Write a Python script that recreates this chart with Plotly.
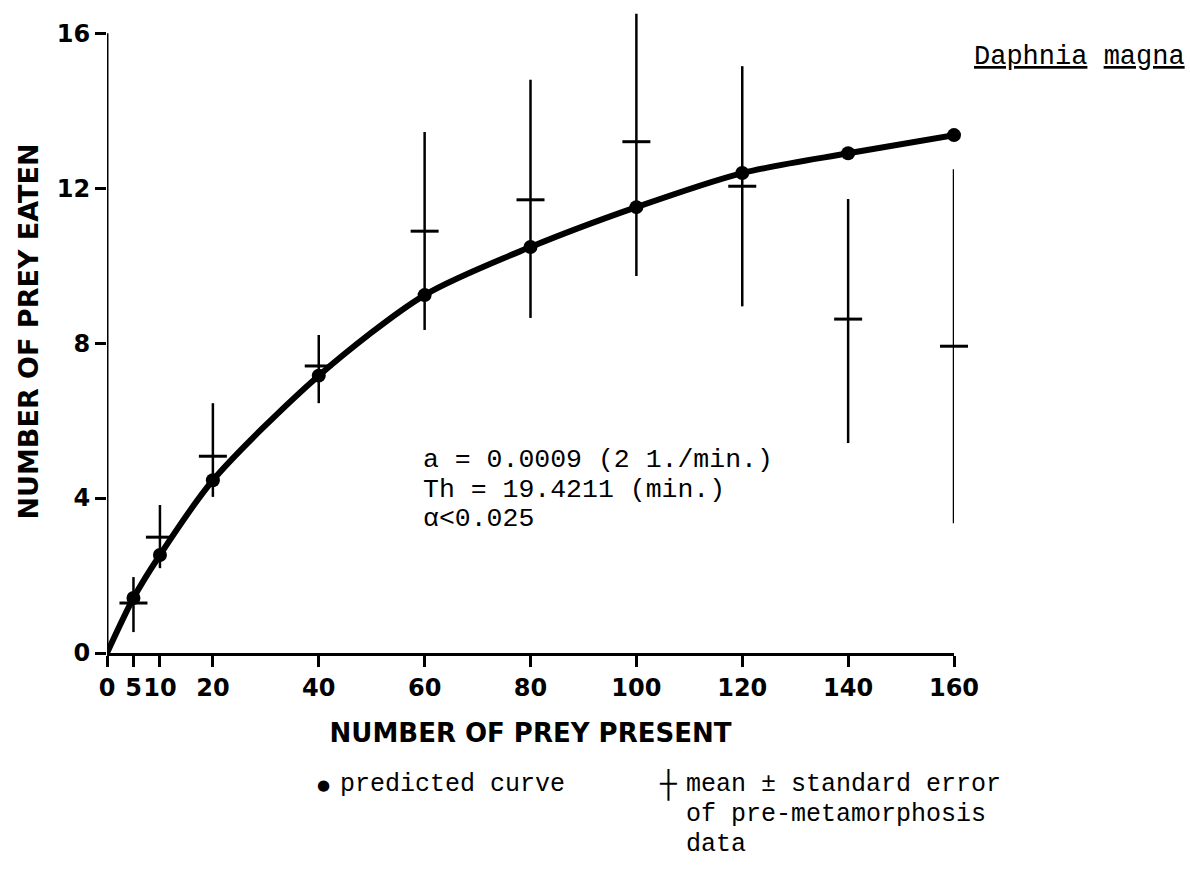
import plotly.graph_objects as go

# ---- data ----
prey_present = [0, 5, 10, 20, 40, 60, 80, 100, 120, 140, 160]
predicted_eaten = [0, 1.42, 2.53, 4.46, 7.16, 9.24, 10.48, 11.51, 12.39, 12.90, 13.37]

obs_x = [5, 10, 20, 40, 60, 80, 100, 120, 140, 160]
obs_mean = [1.29, 2.99, 5.08, 7.41, 10.89, 11.70, 13.20, 12.05, 8.62, 7.92]
obs_upper = [1.96, 3.82, 6.45, 8.21, 13.45, 14.80, 16.50, 15.15, 11.72, 12.49]
obs_lower = [0.54, 2.19, 4.03, 6.45, 8.34, 8.65, 9.73, 8.95, 5.42, 3.35]

x_tick_vals = [0, 5, 10, 20, 40, 60, 80, 100, 120, 140, 160]
x_tick_text = ["0", "5", "10", "20", "40", "60", "80", "100", "120", "140", "160"]
y_tick_vals = [0, 4, 8, 12, 16]
y_axis_top = 16
y_view_top = 16.6  # room above the axis for the tallest error bar

# ---- layout geometry (pixels) ----
W, H = 1190, 873
ML, MR, MB = 107, 236, 220
PW = W - ML - MR
PH = 620 * y_view_top / y_axis_top
MT = H - MB - PH


def px(xpix):
    return (xpix - ML) / PW


def py(ypix):
    return (H - MB - ypix) / PH


MONO = "Liberation Mono, Courier New, monospace"
BOLD = "DejaVu Sans, Arial, sans-serif"

fig = go.Figure()

fig.add_trace(go.Scatter(
    x=prey_present, y=predicted_eaten,
    mode="lines+markers",
    line=dict(color="black", width=6, shape="spline", smoothing=0.8),
    marker=dict(color="black", opacity=1, line=dict(width=0),
                size=[0] + [14] * (len(prey_present) - 1)),
    cliponaxis=False, showlegend=False, name="predicted curve",
))

fig.add_trace(go.Scatter(
    x=obs_x, y=obs_mean,
    mode="markers",
    marker=dict(symbol="line-ew", size=20, line=dict(color="black", width=3)),
    error_y=dict(
        type="data", symmetric=False,
        array=[u - m for u, m in zip(obs_upper, obs_mean)],
        arrayminus=[m - l for m, l in zip(obs_mean, obs_lower)],
        color="black", thickness=2.5, width=0,
    ),
    cliponaxis=False, showlegend=False, name="mean ± standard error",
))

# y axis line drawn only from 0 to 16 (the view extends a little higher)
fig.add_shape(type="line", xref="x", yref="y", x0=0, x1=0, y0=0, y1=y_axis_top,
              line=dict(color="black", width=3), layer="above")

fig.update_layout(
    width=W, height=H,
    margin=dict(l=ML, r=MR, t=MT, b=MB, pad=0),
    paper_bgcolor="white", plot_bgcolor="white",
    xaxis=dict(
        range=[0, 160], tickmode="array", tickvals=x_tick_vals, ticktext=x_tick_text,
        tickangle=0,
        showgrid=False, zeroline=False, showline=True, linecolor="black", linewidth=3,
        ticks="outside", ticklen=11, tickwidth=3, tickcolor="black",
        tickfont=dict(family=BOLD, size=24, color="black", weight="bold"),
        title=dict(text="NUMBER OF PREY PRESENT", standoff=24,
                   font=dict(family=BOLD, size=26, color="black", weight="bold")),
    ),
    yaxis=dict(
        range=[0, y_view_top], tickmode="array", tickvals=y_tick_vals,
        showgrid=False, zeroline=False, showline=False,
        ticks="outside", ticklen=11, tickwidth=3, tickcolor="black",
        tickfont=dict(family=BOLD, size=24, color="black", weight="bold"),
        title=dict(text="NUMBER OF PREY EATEN", standoff=10,
                   font=dict(family=BOLD, size=27, color="black", weight="bold")),
    ),
)


def note(text, xpix, ypix, size=26.5, anchor="left", family=MONO):
    fig.add_annotation(
        text=text, xref="paper", yref="paper", x=px(xpix), y=py(ypix),
        xanchor=anchor, yanchor="middle", showarrow=False,
        font=dict(family=family, size=size, color="black"),
    )


note("<u>Daphnia</u> <u>magna</u>", 972, 57, size=27)
note("a = 0.0009 (2 1./min.)", 421, 460)
note("Th = 19.4211 (min.)", 421, 490)
note("α<0.025", 421, 519)

note("●", 323, 785, size=15, anchor="center", family="DejaVu Sans")
note("predicted curve", 338, 785, size=25)
note("┼", 668, 785, size=28, anchor="center")
note("mean ± standard error", 684, 785, size=25)
note("of pre-metamorphosis", 684, 815, size=25)
note("data", 684, 845, size=25)

fig.write_html("out.html")
